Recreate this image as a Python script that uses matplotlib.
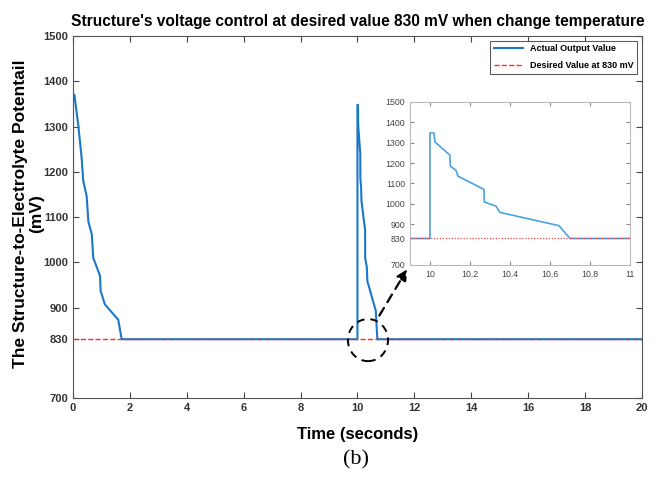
import matplotlib.pyplot as plt
from matplotlib.patches import Ellipse

SANS = ["Liberation Sans", "DejaVu Sans"]

# main trace (time in s, potential in mV)
t_main = [0.0, 0.0, 0.05, 0.19, 0.30, 0.36, 0.48, 0.54, 0.66, 0.71, 0.95, 0.97,
          1.12, 1.59, 1.71, 10.0,
          10.0, 10.02, 10.025, 10.10, 10.102, 10.13, 10.14, 10.27, 10.272,
          10.33, 10.35, 10.645, 10.70, 20.0]
v_main = [1100, 1370, 1370, 1300, 1233, 1180, 1146, 1090, 1062, 1010, 970, 937,
          907, 873, 830, 830,
          1348, 1348, 1304, 1239, 1185, 1165, 1136, 1071, 1009,
          989, 958, 893, 830, 830]
desired = 830

y_ticks = [700, 830, 900, 1000, 1100, 1200, 1300, 1400, 1500]
x_ticks_main = [0, 2, 4, 6, 8, 10, 12, 14, 16, 18, 20]
x_ticks_inset = [10, 10.2, 10.4, 10.6, 10.8, 11]

blue = "#1a78c8"
red = "#ff2a2a"

plt.rcParams["font.family"] = SANS

fig = plt.figure(figsize=(6.59, 4.94), dpi=100)
ax = fig.add_axes([0.1108, 0.1943, 0.8632, 0.7327])

ax.plot(t_main, v_main, color=blue, linewidth=1.5, label="Actual Output Value", zorder=2)
ax.axhline(desired, color=red, linestyle="--", linewidth=1.0,
           label="Desired Value at 830 mV", zorder=3)

ax.set_xlim(0, 20)
ax.set_ylim(700, 1500)
ax.set_xticks(x_ticks_main)
ax.set_yticks(y_ticks)
ax.tick_params(direction="in", top=True, right=True, length=4, color="#444444",
               labelsize=8, labelcolor="#333333")
for lab in ax.get_xticklabels() + ax.get_yticklabels():
    lab.set_fontweight("bold")
for s in ax.spines.values():
    s.set_color("#555555")
    s.set_linewidth(0.8)

ax.set_title("Structure's voltage control at desired value 830 mV when change temperature",
             fontweight="bold", fontsize=11.2, pad=7)
ax.set_xlabel("Time (seconds)", fontweight="bold", fontsize=12, labelpad=10)
ax.set_ylabel("The Structure-to-Electrolyte Potentail\n(mV)", fontweight="bold",
              fontsize=12.5, linespacing=1.05)
ax.yaxis.set_label_coords(-0.051, 0.51)

leg = ax.legend(loc="upper right", fancybox=False, edgecolor="#333333",
                prop={"weight": "bold", "size": 6.5}, labelspacing=0.9,
                borderaxespad=0.5, handlelength=3.2)
leg.get_frame().set_linewidth(0.8)

# zoom marker
ax.add_patch(Ellipse((10.37, 828), 1.41, 93, fill=False, edgecolor="black",
                     linestyle=(0, (4, 3)), linewidth=1.4, zorder=5))
ax.annotate("", xy=(11.8, 990), xytext=(10.72, 877),
            arrowprops=dict(arrowstyle="-|>", linestyle=(0, (4, 3)), color="black",
                            linewidth=1.6, mutation_scale=16), zorder=5)

# inset
axi = fig.add_axes([0.622, 0.4636, 0.334, 0.33])
axi.plot(t_main, v_main, color="#4aa3e0", linewidth=1.2, zorder=2)
axi.axhline(desired, color=red, linestyle=":", linewidth=0.8, zorder=3)
axi.set_xlim(9.9, 11)
axi.set_ylim(700, 1500)
axi.set_xticks(x_ticks_inset)
axi.set_xticklabels(["10", "10.2", "10.4", "10.6", "10.8", "11"])
axi.set_yticks(y_ticks)
axi.tick_params(direction="in", top=True, right=True, length=3, color="#888888",
                labelsize=6.3, labelcolor="#444444")
for s in axi.spines.values():
    s.set_color("#bbbbbb")
    s.set_linewidth(0.8)

fig.text(0.54, 0.07, "(b)", family=["Liberation Serif", "DejaVu Serif"], fontsize=16,
         ha="center", va="center")

fig.savefig("out.png", dpi=100)
